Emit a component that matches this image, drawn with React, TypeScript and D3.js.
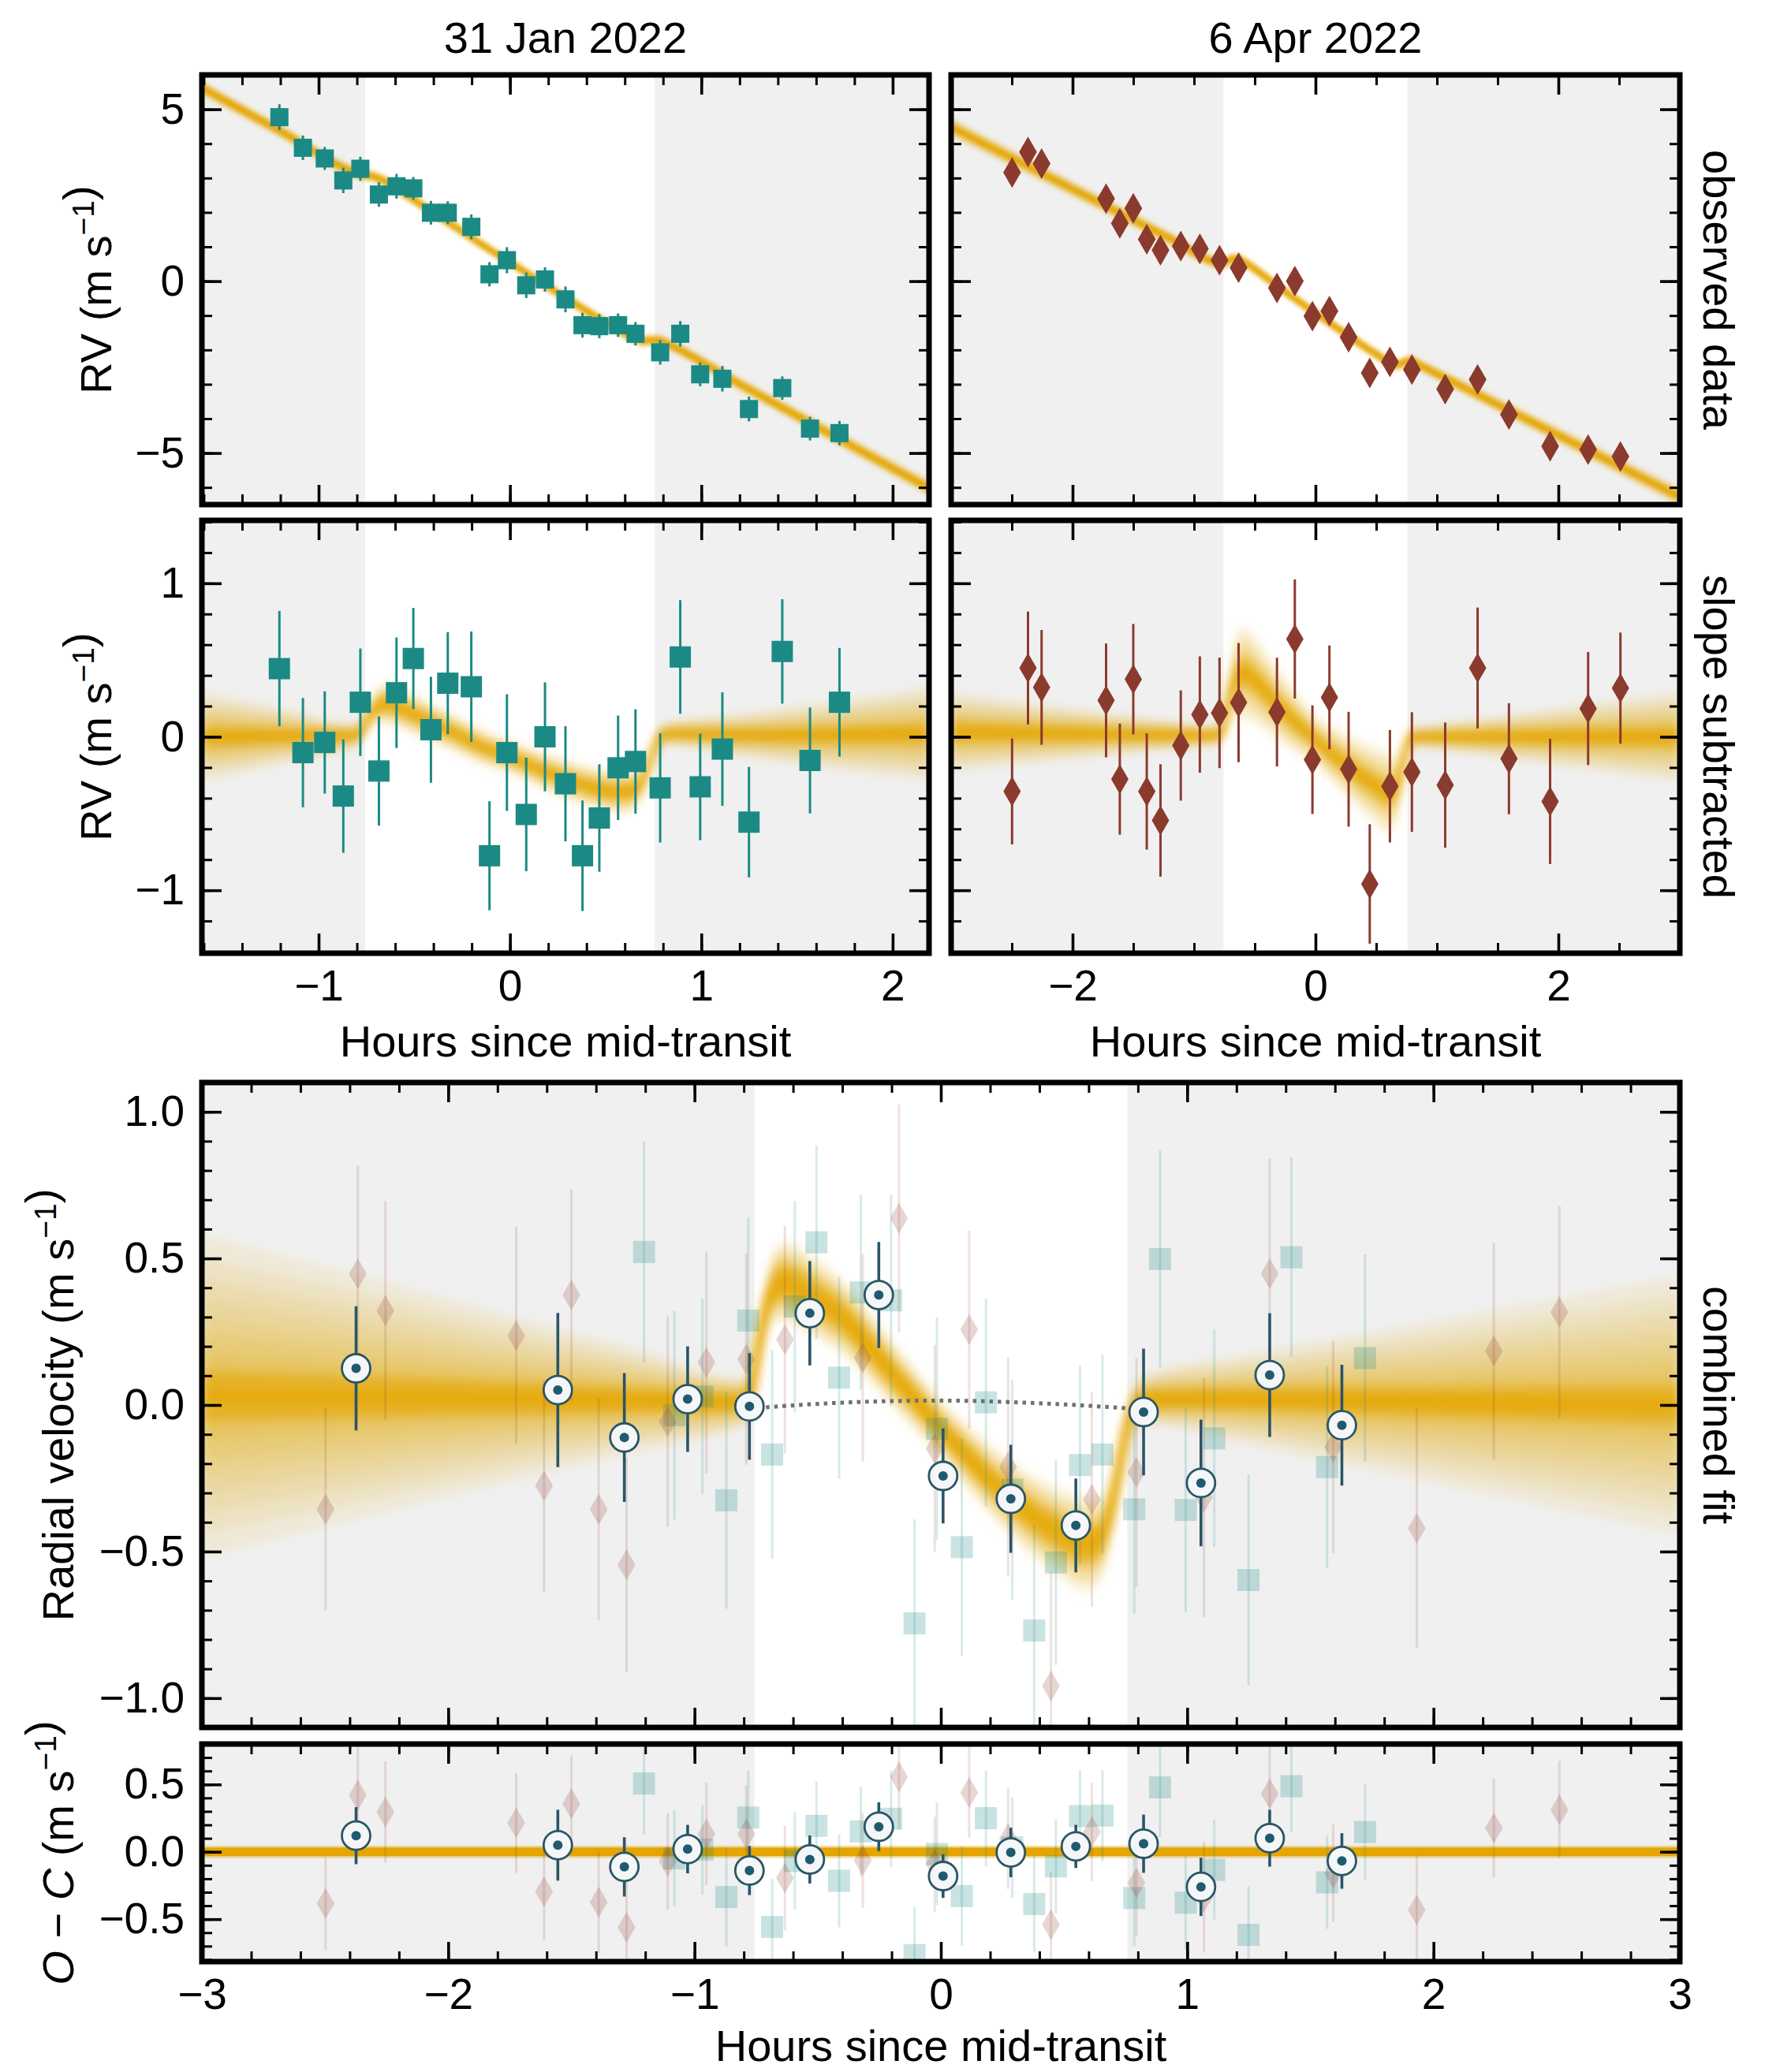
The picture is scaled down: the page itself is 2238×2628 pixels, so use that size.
import React, { useEffect, useRef } from 'react';
import * as d3 from 'd3';

// ---------- 31 Jan 2022 night (teal squares) ----------
const janHours = [-1.205, -1.082, -0.968, -0.871, -0.782, -0.685, -0.593, -0.505, -0.413, -0.325, -0.202, -0.107, -0.016, 0.085, 0.183, 0.29, 0.379, 0.467, 0.565, 0.656, 0.785, 0.89, 0.994, 1.11, 1.249, 1.423, 1.568, 1.722];
const janObserved = [4.77, 3.88, 3.57, 2.93, 3.27, 2.52, 2.76, 2.7, 1.99, 1.99, 1.58, 0.2, 0.61, -0.12, 0.05, -0.53, -1.28, -1.31, -1.28, -1.53, -2.07, -1.53, -2.71, -2.84, -3.72, -3.11, -4.29, -4.42];
const janSubtracted = [0.444, -0.103, -0.037, -0.386, 0.225, -0.223, 0.287, 0.51, 0.046, 0.349, 0.326, -0.775, -0.103, -0.506, 0.0, -0.306, -0.775, -0.529, -0.202, -0.161, -0.333, 0.52, -0.326, -0.08, -0.556, 0.556, -0.154, 0.225];
const janCombined = [0.522, -0.035, 0.029, -0.325, 0.288, -0.169, 0.336, 0.555, 0.093, 0.384, 0.357, -0.745, -0.081, -0.485, 0.009, -0.289, -0.769, -0.537, -0.205, -0.169, -0.356, 0.498, -0.358, -0.114, -0.597, 0.504, -0.212, 0.16];
const janErr = [0.376, 0.356, 0.333, 0.37, 0.35, 0.356, 0.36, 0.33, 0.345, 0.333, 0.36, 0.355, 0.38, 0.37, 0.355, 0.375, 0.36, 0.35, 0.34, 0.34, 0.356, 0.37, 0.347, 0.37, 0.36, 0.34, 0.345, 0.354];

// ---------- 6 Apr 2022 night (brown diamonds) ----------
const aprHours = [-2.498, -2.367, -2.255, -1.724, -1.611, -1.5, -1.389, -1.276, -1.109, -0.952, -0.79, -0.633, -0.317, -0.17, -0.025, 0.115, 0.273, 0.447, 0.613, 0.794, 1.068, 1.335, 1.593, 1.932, 2.245, 2.511];
const aprObserved = [3.16, 3.76, 3.42, 2.4, 1.68, 2.12, 1.22, 0.9, 1.02, 0.94, 0.61, 0.39, -0.2, 0.0, -1.02, -0.87, -1.63, -2.67, -2.35, -2.57, -3.14, -2.86, -3.88, -4.8, -4.9, -5.1];
const aprSubtracted = [-0.356, 0.448, 0.322, 0.237, -0.276, 0.375, -0.356, -0.545, -0.057, 0.145, 0.156, 0.223, 0.161, 0.637, -0.149, 0.257, -0.211, -0.959, -0.322, -0.23, -0.315, 0.448, -0.143, -0.421, 0.184, 0.317];
const aprErr = [0.345, 0.368, 0.374, 0.371, 0.362, 0.36, 0.379, 0.366, 0.359, 0.379, 0.36, 0.388, 0.354, 0.388, 0.354, 0.338, 0.374, 0.389, 0.366, 0.39, 0.408, 0.394, 0.362, 0.408, 0.368, 0.362];

// ---------- binned points ----------
const binHours = [-2.374, -1.555, -1.285, -1.028, -0.777, -0.532, -0.252, 0.009, 0.284, 0.548, 0.823, 1.056, 1.335, 1.628];
const binRV = [0.125, 0.051, -0.111, 0.02, -0.005, 0.313, 0.375, -0.242, -0.32, -0.411, -0.024, -0.266, 0.102, -0.069];
const binErr = [0.212, 0.263, 0.22, 0.18, 0.182, 0.178, 0.181, 0.162, 0.184, 0.16, 0.216, 0.216, 0.211, 0.206];
const binResid = [0.12, 0.049, -0.112, 0.02, -0.139, -0.057, 0.186, -0.18, -0.005, 0.04, 0.06, -0.26, 0.101, -0.068];

// ---------- linear trends (observed panels) ----------
const janTrendHours = [-1.61, 2.19];
const janTrendRV = [5.62, -6.04];
const aprTrendHours = [-3, 3];
const aprTrendRV = [4.45, -6.27];

// ---------- RM models ----------
const janModelHours = [-1.61, -1.2, -0.8, -0.77, -0.73, -0.69, -0.65, -0.6, -0.45, -0.3, -0.14, 0, 0.17, 0.3, 0.43, 0.52, 0.6, 0.66, 0.7, 0.74, 0.78, 0.82, 1.2, 2.19];
const janModelRV = [0.0, 0.005, 0.01, 0.05, 0.15, 0.2, 0.22, 0.2, 0.115, 0.03, -0.07, -0.13, -0.22, -0.28, -0.33, -0.355, -0.36, -0.34, -0.27, -0.13, -0.01, 0.02, 0.01, 0.02];
const janBandHours = [-1.61, -0.78, -0.65, 0, 0.6, 0.78, 2.19];
const janBandCore = [0.06, 0.03, 0.05, 0.04, 0.05, 0.03, 0.06];
const janBandOuter = [0.3, 0.07, 0.14, 0.11, 0.15, 0.07, 0.31];

const aprModelHours = [-3, -2, -1.2, -0.8, -0.76, -0.72, -0.68, -0.64, -0.6, -0.53, -0.43, -0.3, -0.2, -0.1, 0, 0.1, 0.25, 0.4, 0.5, 0.6, 0.65, 0.7, 0.75, 0.79, 0.85, 1.5, 3];
const aprModelRV = [0.03, 0.02, 0.01, 0.01, 0.06, 0.22, 0.34, 0.41, 0.42, 0.39, 0.31, 0.2, 0.12, 0.05, -0.02, -0.09, -0.18, -0.27, -0.32, -0.37, -0.36, -0.25, -0.08, 0.0, 0.0, 0.0, 0.0];
const aprBandHours = [-3, -0.78, -0.62, 0, 0.62, 0.78, 3];
const aprBandCore = [0.06, 0.03, 0.08, 0.05, 0.07, 0.03, 0.06];
const aprBandOuter = [0.26, 0.06, 0.32, 0.16, 0.28, 0.06, 0.3];

const combModelHours = [-3, -2, -1.2, -0.8, -0.77, -0.74, -0.71, -0.68, -0.64, -0.58, -0.5, -0.4, -0.3, -0.2, -0.1, 0, 0.1, 0.2, 0.3, 0.4, 0.5, 0.58, 0.63, 0.67, 0.71, 0.75, 0.79, 0.85, 1.2, 2, 3];
const combModelRV = [0.03, 0.025, 0.015, 0.01, 0.05, 0.2, 0.33, 0.4, 0.42, 0.4, 0.36, 0.3, 0.21, 0.11, 0.015, -0.08, -0.17, -0.255, -0.33, -0.395, -0.445, -0.475, -0.47, -0.42, -0.28, -0.1, 0.0, 0.02, 0.02, 0.01, 0.0];
const combBandHours = [-3, -0.78, -0.62, 0, 0.6, 0.78, 3];
const combBandCore = [0.08, 0.03, 0.06, 0.04, 0.06, 0.03, 0.06];
const combBandOuter = [0.55, 0.08, 0.15, 0.1, 0.17, 0.08, 0.44];

const topBandHours = [-3, 0, 3];
const topBandCore = [0.08, 0.08, 0.08];
const topBandOuter = [0.32, 0.16, 0.32];

// model without the RM anomaly (dotted)
const keplerHours = [-0.777, -0.4, 0, 0.4, 0.823];
const keplerRV = [-0.012, 0.008, 0.015, 0.006, -0.015];

const transitWindow = [-0.757, 0.757];

// ---------- ticks ----------
const janXMajor = [-1, 0, 1, 2];
const janXMinor = d3.range(-1.6, 2.19, 0.2);
const aprXMajor = [-2, 0, 2];
const aprXMinor = d3.range(-3, 3.01, 0.5);
const obsYMajor = [-5, 0, 5];
const obsYMinor = d3.range(-6, 6.01, 1);
const subYMajor = [-1, 0, 1];
const subYMinor = d3.range(-1.4, 1.41, 0.2);
const fullXMajor = [-3, -2, -1, 0, 1, 2, 3];
const fullXMinor = d3.range(-3, 3.01, 0.2);
const combYMajor = [-1, -0.5, 0, 0.5, 1];
const combYMinor = d3.range(-1.1, 1.11, 0.1);
const resYMajor = [-0.5, 0, 0.5];
const resYMinor = d3.range(-0.8, 0.81, 0.1);

// ---------- styles ----------
const FONT = '"Liberation Sans", Arial, Helvetica, sans-serif';
const SHADE = '#f0f0f0';
const TEAL = '#1b8a85';
const BROWN = '#8b3a2e';
const BIN = '#2a5567';
const BIN_DOT = '#1f5a70';
const BAND = '#e5a500';

const P_TL = { x0: 256, x1: 1178, y0: 95, y1: 640, xd: [-1.61, 2.19], yd: [-6.5, 6] };
const P_TR = { x0: 1206, x1: 2130, y0: 95, y1: 640, xd: [-3, 3], yd: [-6.5, 6] };
const P_ML = { x0: 256, x1: 1178, y0: 660, y1: 1209, xd: [-1.61, 2.19], yd: [-1.41, 1.41] };
const P_MR = { x0: 1206, x1: 2130, y0: 660, y1: 1209, xd: [-3, 3], yd: [-1.41, 1.41] };
const P_MAIN = { x0: 256, x1: 2130, y0: 1373, y1: 2191, xd: [-3, 3], yd: [-1.1, 1.1] };
const P_RES = { x0: 256, x1: 2130, y0: 2212, y1: 2488, xd: [-3, 3], yd: [-0.815, 0.8] };

function makePanel(svg, id, p) {
  const x = d3.scaleLinear().domain(p.xd).range([p.x0, p.x1]);
  const y = d3.scaleLinear().domain(p.yd).range([p.y1, p.y0]);
  svg.select('defs').append('clipPath').attr('id', id)
    .append('rect').attr('x', p.x0).attr('y', p.y0).attr('width', p.x1 - p.x0).attr('height', p.y1 - p.y0);
  const g = svg.append('g').attr('clip-path', `url(#${id})`);
  g.append('rect').attr('x', x(p.xd[0])).attr('y', p.y0)
    .attr('width', x(transitWindow[0]) - x(p.xd[0])).attr('height', p.y1 - p.y0).attr('fill', SHADE);
  g.append('rect').attr('x', x(transitWindow[1])).attr('y', p.y0)
    .attr('width', x(p.xd[1]) - x(transitWindow[1])).attr('height', p.y1 - p.y0).attr('fill', SHADE);
  return { g, x, y };
}

function drawAxes(svg, p, x, y, t) {
  const a = svg.append('g');
  const blank = () => '';
  const add = (axis, tx, ty, major) => {
    const ag = a.append('g').attr('transform', `translate(${tx},${ty})`).call(axis);
    ag.attr('font-family', null).attr('font-size', null);
    ag.select('.domain').remove();
    ag.selectAll('line').attr('stroke', '#000').attr('stroke-width', major ? 3.6 : 3);
    ag.selectAll('text').attr('font-size', 55).attr('font-family', FONT).attr('fill', '#000');
  };
  add(d3.axisBottom(x).tickValues(t.xMinor).tickSize(-13).tickFormat(blank), 0, p.y1, false);
  add(d3.axisBottom(x).tickValues(t.xMajor).tickSize(-25).tickPadding(21).tickFormat(t.xFmt || blank), 0, p.y1, true);
  add(d3.axisTop(x).tickValues(t.xMinor).tickSize(-13).tickFormat(blank), 0, p.y0, false);
  add(d3.axisTop(x).tickValues(t.xMajor).tickSize(-25).tickFormat(blank), 0, p.y0, true);
  add(d3.axisLeft(y).tickValues(t.yMinor).tickSize(-13).tickFormat(blank), p.x0, 0, false);
  add(d3.axisLeft(y).tickValues(t.yMajor).tickSize(-25).tickPadding(22).tickFormat(t.yFmt || blank), p.x0, 0, true);
  add(d3.axisRight(y).tickValues(t.yMinor).tickSize(-13).tickFormat(blank), p.x1, 0, false);
  add(d3.axisRight(y).tickValues(t.yMajor).tickSize(-25).tickFormat(blank), p.x1, 0, true);
  a.append('rect').attr('x', p.x0).attr('y', p.y0).attr('width', p.x1 - p.x0).attr('height', p.y1 - p.y0)
    .attr('fill', 'none').attr('stroke', '#000').attr('stroke-width', 7);
}

// posterior band: many thin translucent layers between the core and outer envelope, softened by a blur
function drawBand(g, x, y, hours, rv, bandHours, bandCore, bandOuter, lineWidth, trend, filterId) {
  const core = d3.scaleLinear().domain(bandHours).range(bandCore).clamp(true);
  const outer = d3.scaleLinear().domain(bandHours).range(bandOuter).clamp(true);
  const pts = hours.map((h, i) => [h, rv[i] + (trend ? trend(h) : 0)]);
  const bg = g.append('g').attr('filter', `url(#${filterId})`);
  const layer = (f, op) => {
    const hw = (h) => core(h) + (outer(h) - core(h)) * f;
    const area = d3.area()
      .x((d) => x(d[0]))
      .y0((d) => y(d[1] - hw(d[0])))
      .y1((d) => y(d[1] + hw(d[0])))
      .curve(d3.curveMonotoneX);
    bg.append('path').attr('d', area(pts)).attr('fill', BAND).attr('fill-opacity', op);
  };
  d3.range(1, 0.05, -0.09).forEach((f) => layer(f * f, 0.1));
  layer(0, 0.5);
  const line = d3.line().x((d) => x(d[0])).y((d) => y(d[1])).curve(d3.curveMonotoneX);
  bg.append('path').attr('d', line(pts)).attr('fill', 'none').attr('stroke', BAND)
    .attr('stroke-width', lineWidth).attr('stroke-opacity', 0.75);
}

function drawSeries(g, x, y, hours, values, errs, kind, size, color, opacity, errOpacity) {
  const sg = g.append('g');
  sg.append('g').attr('opacity', errOpacity).selectAll('line').data(hours).join('line')
    .attr('x1', (h) => x(h)).attr('x2', (h) => x(h))
    .attr('y1', (h, i) => y(values[i] - errs[i])).attr('y2', (h, i) => y(values[i] + errs[i]))
    .attr('stroke', color).attr('stroke-width', 3);
  const sym = d3.symbol().type(kind === 'square' ? d3.symbolSquare : d3.symbolDiamond).size(size);
  sg.append('g').attr('opacity', opacity).selectAll('path').data(hours).join('path')
    .attr('d', sym())
    .attr('transform', (h, i) => `translate(${x(h)},${y(values[i])})`)
    .attr('fill', color);
}

function drawBins(g, x, y, hours, values, errs) {
  const bg = g.append('g');
  bg.append('g').selectAll('line').data(hours).join('line')
    .attr('x1', (h) => x(h)).attr('x2', (h) => x(h))
    .attr('y1', (h, i) => y(values[i] - errs[i])).attr('y2', (h, i) => y(values[i] + errs[i]))
    .attr('stroke', BIN).attr('stroke-width', 3.6);
  bg.append('g').selectAll('circle').data(hours).join('circle')
    .attr('cx', (h) => x(h)).attr('cy', (h, i) => y(values[i])).attr('r', 18)
    .attr('fill', '#f4f6f7').attr('stroke', BIN).attr('stroke-width', 2.8);
  bg.append('g').selectAll('circle').data(hours).join('circle')
    .attr('cx', (h) => x(h)).attr('cy', (h, i) => y(values[i])).attr('r', 6)
    .attr('fill', BIN_DOT);
}

function yLabel(svg, cx, cy, parts) {
  const t = svg.append('text').attr('transform', `translate(${cx},${cy}) rotate(-90)`)
    .attr('text-anchor', 'middle').attr('font-size', 56).attr('font-family', FONT);
  parts.forEach((p) => {
    if (p.sup) {
      t.append('tspan').attr('dy', -22).attr('font-size', 39).text(p.text);
      t.append('tspan').attr('dy', 22).text('');
    } else {
      const s = t.append('tspan').text(p.text);
      if (p.italic) s.attr('font-style', 'italic');
    }
  });
}

function sideLabel(svg, cx, cy, text) {
  svg.append('text').attr('transform', `translate(${cx},${cy}) rotate(90)`)
    .attr('text-anchor', 'middle').attr('font-size', 56).attr('font-family', FONT).text(text);
}

function centerText(svg, cx, cy, text) {
  svg.append('text').attr('x', cx).attr('y', cy).attr('text-anchor', 'middle')
    .attr('font-size', 56).attr('font-family', FONT).text(text);
}

const App = () => {
  const svgRef = useRef(null);

  useEffect(() => {
    document.body.style.margin = '0';
    const svg = d3.select(svgRef.current);
    svg.selectAll('*').remove();
    const defs = svg.append('defs');
    defs.append('filter').attr('id', 'soft')
      .attr('x', '-5%').attr('y', '-30%').attr('width', '110%').attr('height', '160%')
      .append('feGaussianBlur').attr('stdDeviation', 6);
    defs.append('filter').attr('id', 'softTop')
      .attr('x', '-5%').attr('y', '-30%').attr('width', '110%').attr('height', '160%')
      .append('feGaussianBlur').attr('stdDeviation', 2.5);

    const fmtInt = d3.format('d');
    const fmtOne = d3.format('.1f');
    const unit = [{ text: 'RV (m s' }, { text: '\u22121', sup: true }, { text: ')' }];

    const janTrend = d3.scaleLinear().domain(janTrendHours).range(janTrendRV);
    const aprTrend = d3.scaleLinear().domain(aprTrendHours).range(aprTrendRV);
    const combModel = d3.scaleLinear().domain(combModelHours).range(combModelRV);

    // --- observed data, 31 Jan ---
    {
      const { g, x, y } = makePanel(svg, 'c-tl', P_TL);
      drawBand(g, x, y, janModelHours, janModelRV, topBandHours, topBandCore, topBandOuter, 9, janTrend, 'softTop');
      drawSeries(g, x, y, janHours, janObserved, janErr, 'square', 23 * 23, TEAL, 1, 1);
      drawAxes(svg, P_TL, x, y, { xMajor: janXMajor, xMinor: janXMinor, yMajor: obsYMajor, yMinor: obsYMinor, yFmt: fmtInt });
    }
    // --- observed data, 6 Apr ---
    {
      const { g, x, y } = makePanel(svg, 'c-tr', P_TR);
      drawBand(g, x, y, aprModelHours, aprModelRV, topBandHours, topBandCore, topBandOuter, 9, aprTrend, 'softTop');
      drawSeries(g, x, y, aprHours, aprObserved, aprErr, 'diamond', 440, BROWN, 1, 1);
      drawAxes(svg, P_TR, x, y, { xMajor: aprXMajor, xMinor: aprXMinor, yMajor: obsYMajor, yMinor: obsYMinor });
    }
    // --- slope subtracted, 31 Jan ---
    {
      const { g, x, y } = makePanel(svg, 'c-ml', P_ML);
      drawBand(g, x, y, janModelHours, janModelRV, janBandHours, janBandCore, janBandOuter, 10, null, 'soft');
      drawSeries(g, x, y, janHours, janSubtracted, janErr, 'square', 27 * 27, TEAL, 1, 1);
      drawAxes(svg, P_ML, x, y, { xMajor: janXMajor, xMinor: janXMinor, yMajor: subYMajor, yMinor: subYMinor, xFmt: fmtInt, yFmt: fmtInt });
    }
    // --- slope subtracted, 6 Apr ---
    {
      const { g, x, y } = makePanel(svg, 'c-mr', P_MR);
      drawBand(g, x, y, aprModelHours, aprModelRV, aprBandHours, aprBandCore, aprBandOuter, 10, null, 'soft');
      drawSeries(g, x, y, aprHours, aprSubtracted, aprErr, 'diamond', 420, BROWN, 1, 1);
      drawAxes(svg, P_MR, x, y, { xMajor: aprXMajor, xMinor: aprXMinor, yMajor: subYMajor, yMinor: subYMinor, xFmt: fmtInt });
    }
    // --- combined fit ---
    {
      const { g, x, y } = makePanel(svg, 'c-main', P_MAIN);
      drawBand(g, x, y, combModelHours, combModelRV, combBandHours, combBandCore, combBandOuter, 13, null, 'soft');
      const dotted = d3.line().x((d) => x(d[0])).y((d) => y(d[1])).curve(d3.curveMonotoneX);
      g.append('path').attr('d', dotted(keplerHours.map((h, i) => [h, keplerRV[i]])))
        .attr('fill', 'none').attr('stroke', '#707070').attr('stroke-width', 5).attr('stroke-dasharray', '4.5 6');
      drawSeries(g, x, y, janHours, janCombined, janErr, 'square', 28 * 28, TEAL, 0.24, 0.17);
      drawSeries(g, x, y, aprHours, aprSubtracted, aprErr, 'diamond', 440, BROWN, 0.21, 0.15);
      drawBins(g, x, y, binHours, binRV, binErr);
      drawAxes(svg, P_MAIN, x, y, { xMajor: fullXMajor, xMinor: fullXMinor, yMajor: combYMajor, yMinor: combYMinor, yFmt: fmtOne });
    }
    // --- residuals ---
    {
      const { g, x, y } = makePanel(svg, 'c-res', P_RES);
      g.append('line').attr('x1', x(P_RES.xd[0])).attr('x2', x(P_RES.xd[1])).attr('y1', y(0)).attr('y2', y(0))
        .attr('stroke', BAND).attr('stroke-opacity', 0.35).attr('stroke-width', 16);
      g.append('line').attr('x1', x(P_RES.xd[0])).attr('x2', x(P_RES.xd[1])).attr('y1', y(0)).attr('y2', y(0))
        .attr('stroke', BAND).attr('stroke-width', 11);
      const janRes = janCombined.map((v, i) => v - combModel(janHours[i]));
      const aprRes = aprSubtracted.map((v, i) => v - combModel(aprHours[i]));
      drawSeries(g, x, y, janHours, janRes, janErr, 'square', 28 * 28, TEAL, 0.24, 0.17);
      drawSeries(g, x, y, aprHours, aprRes, aprErr, 'diamond', 440, BROWN, 0.21, 0.15);
      drawBins(g, x, y, binHours, binResid, binErr);
      drawAxes(svg, P_RES, x, y, { xMajor: fullXMajor, xMinor: fullXMinor, yMajor: resYMajor, yMinor: resYMinor, xFmt: fmtInt, yFmt: fmtOne });
    }

    // --- titles and labels ---
    centerText(svg, (P_TL.x0 + P_TL.x1) / 2, 67, '31 Jan 2022');
    centerText(svg, (P_TR.x0 + P_TR.x1) / 2, 67, '6 Apr 2022');
    centerText(svg, (P_ML.x0 + P_ML.x1) / 2, 1340, 'Hours since mid-transit');
    centerText(svg, (P_MR.x0 + P_MR.x1) / 2, 1340, 'Hours since mid-transit');
    centerText(svg, (P_RES.x0 + P_RES.x1) / 2, 2614, 'Hours since mid-transit');

    yLabel(svg, 141, (P_TL.y0 + P_TL.y1) / 2, unit);
    yLabel(svg, 141, (P_ML.y0 + P_ML.y1) / 2, unit);
    yLabel(svg, 93, (P_MAIN.y0 + P_MAIN.y1) / 2, [{ text: 'Radial velocity (m s' }, { text: '\u22121', sup: true }, { text: ')' }]);
    yLabel(svg, 93, (P_RES.y0 + P_RES.y1) / 2, [{ text: 'O', italic: true }, { text: ' \u2212 ' }, { text: 'C', italic: true }, { text: ' (m s' }, { text: '\u22121', sup: true }, { text: ')' }]);

    sideLabel(svg, 2160, (P_TR.y0 + P_TR.y1) / 2, 'observed data');
    sideLabel(svg, 2160, (P_MR.y0 + P_MR.y1) / 2, 'slope subtracted');
    sideLabel(svg, 2160, (P_MAIN.y0 + P_MAIN.y1) / 2, 'combined fit');
  }, []);

  return (
    <svg
      ref={svgRef}
      width={2238}
      height={2628}
      style={{ position: 'absolute', left: 0, top: 0, display: 'block', background: '#ffffff' }}
    />
  );
};

export default App;
